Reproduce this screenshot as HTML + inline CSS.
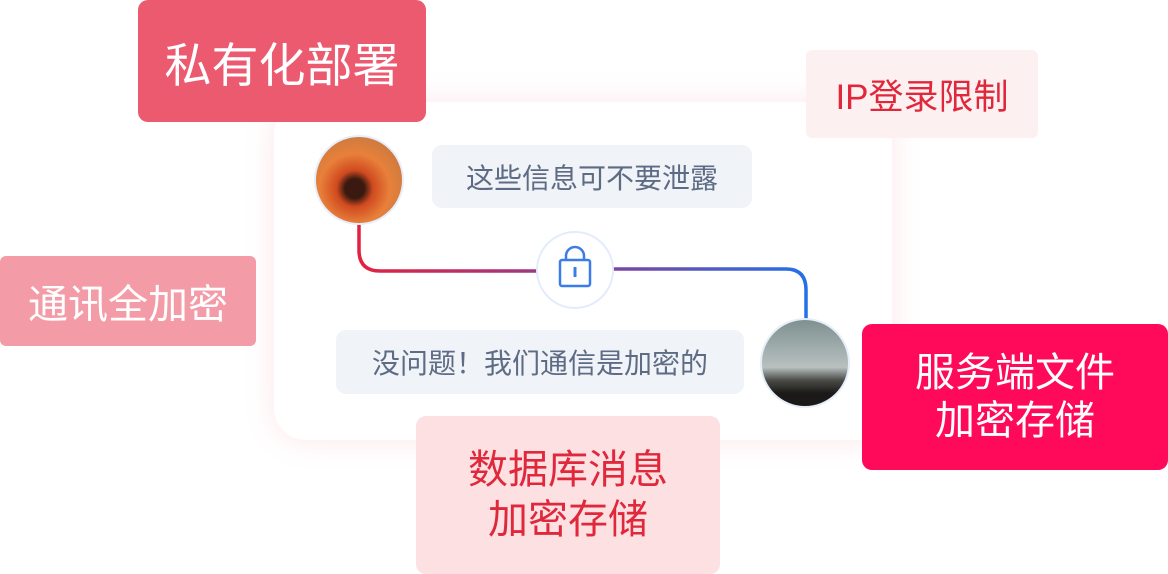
<!DOCTYPE html>
<html><head><meta charset="utf-8"><style>
*{margin:0;padding:0;box-sizing:border-box}
body{width:1168px;height:574px;background:#fff;position:relative;overflow:hidden;font-family:"Liberation Sans","Noto Sans CJK SC",sans-serif}
.a{position:absolute;display:flex;align-items:center;justify-content:center;text-align:center}
.card{position:absolute;left:274px;top:102px;width:618px;height:338px;background:#fff;border-radius:32px;box-shadow:0 0 30px rgba(240,120,140,0.18)}
.bub{position:absolute;background:#f0f3f7;border-radius:10px;color:#5d6b84;font-size:28px;display:flex;align-items:center;justify-content:center;letter-spacing:0}
.av{position:absolute;width:90px;height:90px;border-radius:50%;border:2px solid #e6eefb}
</style></head><body>
<div class="card"></div>
<svg style="position:absolute;left:0;top:0" width="1168" height="574">
<defs><linearGradient id="g" x1="358" y1="0" x2="808" y2="0" gradientUnits="userSpaceOnUse"><stop offset="0" stop-color="#e3213f"/><stop offset="0.5" stop-color="#8a3e95"/><stop offset="1" stop-color="#2470ea"/></linearGradient></defs>
<path d="M359 224 V250 Q359 271 380 271 H537 M613 269 H786 Q806 269 806 290 V320" fill="none" stroke="url(#g)" stroke-width="3.5"/>
<circle cx="575" cy="270" r="38" fill="#fff" stroke="#e3ecfc" stroke-width="2"/>
<path d="M566 260 V256 A9 9 0 0 1 584 256 V260" fill="none" stroke="#3a7ce8" stroke-width="2.5"/>
<rect x="560" y="260" width="30" height="26" rx="2" fill="none" stroke="#3a7ce8" stroke-width="2.5"/>
<rect x="573.5" y="267" width="3" height="10" fill="#3a7ce8"/>
</svg>
<div class="av" style="left:314px;top:135px;background:radial-gradient(circle at 45% 60%,#3a1a10 0 14%,#d04a20 26%,#e8803a 50%,#c87a40 80%)"></div>
<div class="av" style="left:760px;top:318px;background:linear-gradient(#7f9090,#b8c0c0 55%,#4a4c48 70%,#1c1a18 85%)"></div>
<div class="bub" style="left:432px;top:145px;width:320px;height:63px">这些信息可不要泄露</div>
<div class="bub" style="left:336px;top:330px;width:408px;height:64px">没问题！我们通信是加密的</div>
<div class="a" style="left:138px;top:0;width:288px;height:122px;background:#ec5a70;border-radius:10px;color:#fff;font-size:47px">私有化部署</div>
<div class="a" style="left:806px;top:50px;width:232px;height:88px;background:#fdf0f0;border-radius:6px;color:#e0283c;font-size:35px">IP登录限制</div>
<div class="a" style="left:0;top:256px;width:256px;height:90px;background:#f39ba6;border-radius:6px;color:#fff;font-size:40px">通讯全加密</div>
<div class="a" style="left:862px;top:324px;width:306px;height:146px;background:#ff0a5a;border-radius:10px;color:#fff;font-size:40px;line-height:48px">服务端文件<br>加密存储</div>
<div class="a" style="left:416px;top:416px;width:304px;height:158px;background:#fde0e2;border-radius:10px;color:#e0283c;font-size:40px;line-height:50px">数据库消息<br>加密存储</div>
</body></html>
